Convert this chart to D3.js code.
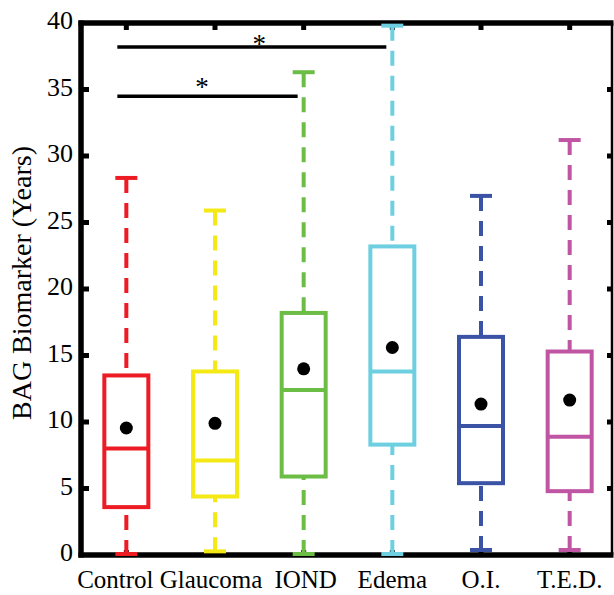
<!DOCTYPE html>
<html>
<head>
<meta charset="utf-8">
<script src="https://cdn.jsdelivr.net/npm/d3@7"></script>
<style>
  html, body { margin: 0; padding: 0; background: #fff; }
  svg { display: block; }
  text { font-family: "Liberation Serif", "Times New Roman", serif; fill: #000; }
</style>
</head>
<body>
<svg id="chart" width="614" height="595"></svg>
<script>
// ---- data ----
const categories = ["Control", "Glaucoma", "IOND", "Edema", "O.I.", "T.E.D."];
const whiskerLow  = [0.0, 0.2, 0.0, 0.0, 0.3, 0.3];
const q1          = [3.6, 4.4, 5.9, 8.3, 5.4, 4.8];
const medians     = [8.0, 7.1, 12.4, 13.8, 9.7, 8.9];
const q3          = [13.5, 13.8, 18.2, 23.2, 16.4, 15.3];
const whiskerHigh = [28.35, 25.9, 36.3, 39.8, 27.0, 31.2];
const means       = [9.55, 9.9, 14.0, 15.6, 11.35, 11.65];
const colors      = ["#ed1c24", "#f4e915", "#6cbd45", "#6dcfe0", "#3a53a4", "#c055a3"];
const yTicks      = [0, 5, 10, 15, 20, 25, 30, 35, 40];
const sigFrom     = ["Control", "Control"];
const sigTo       = ["Edema", "IOND"];
const sigLevel    = [38.2, 34.5];
const sigLabel    = ["*", "*"];
const yLabel      = "BAG Biomarker (Years)";

// ---- layout ----
const svg = d3.select("#chart");
const L = 81, R = 612, T = 23, B = 555;

const x = d3.scaleBand().domain(categories).range([L + 1, R + 2]);
const y = d3.scaleLinear().domain([0, 40]).range([B, T]);
const cx = c => x(c) + x.bandwidth() / 2;

const boxW = 44, capW = 22;
const labelShift = { "Control": -11, "Glaucoma": -4, "IOND": 2 };
const starShift = [0, -13];

const data = categories.map((c, i) => ({
  c, lo: whiskerLow[i], q1: q1[i], med: medians[i], q3: q3[i], hi: whiskerHigh[i], mean: means[i], color: colors[i]
}));

// axes frame (drawn first, data overlays it)
const ax = svg.append("g");
ax.selectAll(".lt").data(yTicks.slice(1, -1)).join("line")
  .attr("x1", L).attr("x2", L + 8).attr("y1", d => y(d)).attr("y2", d => y(d))
  .attr("stroke", "#000").attr("stroke-width", 5);
ax.selectAll(".rt").data(yTicks.slice(1, -1)).join("line")
  .attr("x1", R - 5).attr("x2", R).attr("y1", d => y(d)).attr("y2", d => y(d))
  .attr("stroke", "#000").attr("stroke-width", 5);
ax.selectAll(".tt").data(categories).join("line")
  .attr("x1", d => cx(d)).attr("x2", d => cx(d)).attr("y1", T).attr("y2", T + 7)
  .attr("stroke", "#000").attr("stroke-width", 5);
ax.selectAll(".bt").data(categories).join("line")
  .attr("x1", d => cx(d)).attr("x2", d => cx(d)).attr("y1", B).attr("y2", B - 5)
  .attr("stroke", "#000").attr("stroke-width", 5);

ax.append("line").attr("x1", R).attr("x2", R).attr("y1", T).attr("y2", B)
  .attr("stroke", "#000").attr("stroke-width", 2.5);
ax.append("line").attr("x1", L).attr("x2", L).attr("y1", T - 2.5).attr("y2", B + 2.5)
  .attr("stroke", "#000").attr("stroke-width", 5.5);
ax.append("line").attr("x1", L - 2.5).attr("x2", R + 1.5).attr("y1", T).attr("y2", T)
  .attr("stroke", "#000").attr("stroke-width", 5.5);
ax.append("line").attr("x1", L - 2.5).attr("x2", R + 1.5).attr("y1", B).attr("y2", B)
  .attr("stroke", "#000").attr("stroke-width", 5.5);

// tick labels
ax.selectAll(".yl").data(yTicks).join("text")
  .attr("x", L - 8).attr("y", d => y(d) - 3).attr("dy", "0.35em")
  .attr("text-anchor", "end").attr("font-size", 26)
  .text(d => d);
ax.selectAll(".xl").data(categories).join("text")
  .attr("x", d => cx(d) + (labelShift[d] || 0)).attr("y", 588)
  .attr("text-anchor", "middle").attr("font-size", 25)
  .text(d => d);

// y label
svg.append("text")
  .attr("transform", `translate(31, ${(T + B) / 2 - 6}) rotate(-90)`)
  .attr("text-anchor", "middle").attr("font-size", 28)
  .text(yLabel);

const g = svg.append("g");

// whiskers (dashed), drawn from cap toward box
g.selectAll(".wu").data(data).join("line")
  .attr("x1", d => cx(d.c)).attr("x2", d => cx(d.c))
  .attr("y1", d => y(d.hi)).attr("y2", d => y(d.q3))
  .attr("stroke", d => d.color).attr("stroke-width", 4).attr("stroke-dasharray", "15,10");
g.selectAll(".wl").data(data).join("line")
  .attr("x1", d => cx(d.c)).attr("x2", d => cx(d.c))
  .attr("y1", d => y(d.lo)).attr("y2", d => y(d.q1))
  .attr("stroke", d => d.color).attr("stroke-width", 4).attr("stroke-dasharray", "15,10");

// caps
g.selectAll(".cu").data(data).join("line")
  .attr("x1", d => cx(d.c) - capW / 2).attr("x2", d => cx(d.c) + capW / 2)
  .attr("y1", d => y(d.hi)).attr("y2", d => y(d.hi))
  .attr("stroke", d => d.color).attr("stroke-width", 4);
g.selectAll(".cl").data(data).join("line")
  .attr("x1", d => cx(d.c) - capW / 2).attr("x2", d => cx(d.c) + capW / 2)
  .attr("y1", d => y(d.lo) - 1).attr("y2", d => y(d.lo) - 1)
  .attr("stroke", d => d.color).attr("stroke-width", 4);

// boxes
g.selectAll(".box").data(data).join("rect")
  .attr("x", d => cx(d.c) - boxW / 2).attr("width", boxW)
  .attr("y", d => y(d.q3)).attr("height", d => y(d.q1) - y(d.q3))
  .attr("fill", "none").attr("stroke", d => d.color).attr("stroke-width", 4);

// medians
g.selectAll(".med").data(data).join("line")
  .attr("x1", d => cx(d.c) - boxW / 2).attr("x2", d => cx(d.c) + boxW / 2)
  .attr("y1", d => y(d.med)).attr("y2", d => y(d.med))
  .attr("stroke", d => d.color).attr("stroke-width", 4);

// means
g.selectAll(".mean").data(data).join("circle")
  .attr("cx", d => cx(d.c)).attr("cy", d => y(d.mean)).attr("r", 6.5).attr("fill", "#000");

// significance bars
const sig = sigFrom.map((f, i) => ({ f, t: sigTo[i], v: sigLevel[i], lab: sigLabel[i] }));
g.selectAll(".sig").data(sig).join("line")
  .attr("x1", d => cx(d.f) - 9).attr("x2", d => cx(d.t) - 6)
  .attr("y1", d => y(d.v)).attr("y2", d => y(d.v))
  .attr("stroke", "#000").attr("stroke-width", 3.5);
g.selectAll(".star").data(sig).join("text")
  .attr("x", (d, i) => (cx(d.f) + cx(d.t)) / 2 + starShift[i])
  .attr("y", (d, i) => y(d.v) + (i === 0 ? 6 : 0))
  .attr("text-anchor", "middle").attr("font-size", 27)
  .text(d => d.lab);
</script>
</body>
</html>
